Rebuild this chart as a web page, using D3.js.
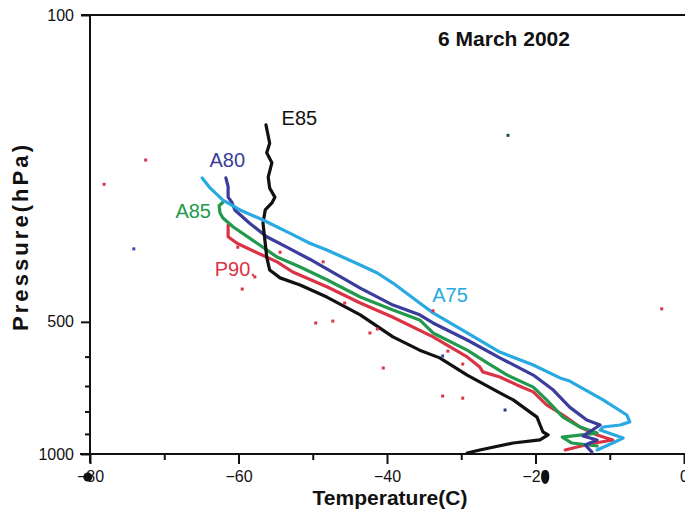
<!DOCTYPE html>
<html>
<head>
<meta charset="utf-8">
<script src="https://cdn.jsdelivr.net/npm/d3@7"></script>
<style>
  html, body { margin: 0; padding: 0; background: #fff; }
  svg { display: block; font-family: "Liberation Sans", Arial, sans-serif; }
</style>
</head>
<body>
<svg id="chart" width="685" height="512"></svg>
<script>
// ---- data: [temperature (C), pressure (hPa)] ----
const E85 = [[-56.3,178],[-55.8,196],[-56.2,206],[-55.5,217],[-56.0,234],[-55.8,248],[-55.1,260],[-55.5,268],[-56.4,278],[-56.7,298],[-56.4,331],[-56.2,356],[-55.8,381],[-54.4,397],[-51.7,412],[-48.1,439],[-43.6,482],[-39.2,541],[-35.6,580],[-32.9,604],[-29.2,661],[-24.8,726],[-23.0,753],[-19.8,824],[-19.0,891],[-18.3,905],[-19.4,929],[-23.0,944],[-27.5,979],[-29.2,995]];
const A80 = [[-61.7,235],[-61.4,246],[-61.4,260],[-60.9,267],[-60.5,278],[-58.5,298],[-56.2,320],[-53.5,338],[-50.4,360],[-43.6,419],[-39.2,458],[-35.6,482],[-33.8,503],[-29.2,550],[-24.8,604],[-20.3,661],[-17.6,715],[-15.4,782],[-13.1,837],[-11.3,859],[-13.6,910],[-11.7,929],[-13.3,954],[-12.4,990]];
const A85 = [[-62.1,267],[-62.6,272],[-62.5,282],[-62.1,290],[-60.7,304],[-57.5,331],[-54.8,356],[-51.7,375],[-48.1,401],[-43.6,439],[-39.2,470],[-35.6,495],[-33.8,530],[-29.2,580],[-26.5,620],[-23.8,661],[-20.3,704],[-18.5,753],[-16.3,824],[-14.0,868],[-11.7,896],[-16.4,915],[-15.1,944],[-11.7,959]];
const P90 = [[-61.4,301],[-61.4,320],[-60.2,331],[-57.5,348],[-54.8,365],[-52.7,385],[-48.1,416],[-43.6,453],[-39.2,488],[-33.8,541],[-29.2,601],[-27.5,634],[-27.1,650],[-24.8,668],[-22.5,696],[-20.3,722],[-18.5,773],[-16.3,815],[-14.0,868],[-11.7,905],[-9.6,929],[-12.7,949],[-14.4,964],[-16.0,979]];
const A75 = [[-64.9,235],[-63.8,248],[-62.1,264],[-59.8,278],[-56.7,293],[-53.1,314],[-50.4,331],[-48.1,343],[-43.6,371],[-41.3,387],[-39.2,408],[-35.6,453],[-33.8,477],[-29.2,530],[-24.8,586],[-20.3,627],[-16.7,671],[-15.4,682],[-10.9,753],[-7.7,815],[-7.3,845],[-8.6,859],[-10.9,868],[-11.3,882],[-8.2,920],[-9.6,944],[-11.7,979]];
const redDots = [[-72.5,214],[-78.1,243],[-60.1,338],[-54.4,347],[-48.6,365],[-57.8,395],[-59.5,421],[-45.7,453],[-49.6,503],[-47.3,498],[-42.3,530],[-41.3,519],[-40.5,637],[-33.8,472],[-31.8,583],[-29.8,624],[-32.5,738],[-29.8,746],[-3.0,467]];
const darkDots = [[-23.7,188,"#1f4f4f"],[-74.1,341,"#3a4aa0"],[-24.1,794,"#2a3a8a"],[-32.5,598,"#3a4aa0"]];
const seriesNames = ["P90","A85","A80","E85","A75"];
const seriesData = {P90, A85, A80, E85, A75};
const seriesColors = {E85:"#111111", A80:"#3b3c9b", A85:"#22994c", P90:"#da3345", A75:"#29a9e1"};
const seriesLabels = [
  {name:"E85", T:-54.2, P:173.5},
  {name:"A80", T:-63.9, P:216},
  {name:"A85", T:-68.5, P:282},
  {name:"P90.", key:"P90", T:-63.2, P:383},
  {name:"A75", T:-33.9, P:439}
];
const xMajor = [-80,-60,-40,-20,0];
const xMinor = [-70,-50,-30,-10];
const yMajor = [100,500,1000];
const yMinor = [600,700,800,900];
const title = "6 March 2002";
const xTitle = "Temperature(C)";
const yTitle = "Pressure(hPa)";

// ---- scales ----
const svg = d3.select("#chart");
const x = d3.scaleLinear().domain([-80,0]).range([90,684]);
const y = d3.scaleLog().domain([100,1000]).range([15,454]);

// ---- axes ----
const axisColor = "#111";
svg.append("line").attr("x1",81).attr("x2",685).attr("y1",y(100)).attr("y2",y(100)).attr("stroke",axisColor).attr("stroke-width",2);
svg.append("line").attr("x1",x(-80)).attr("x2",x(-80)).attr("y1",y(100)).attr("y2",y(1000)+9).attr("stroke",axisColor).attr("stroke-width",2);
svg.append("line").attr("x1",80).attr("x2",685).attr("y1",y(1000)).attr("y2",y(1000)).attr("stroke",axisColor).attr("stroke-width",2);

const yAxis = svg.append("g").attr("transform",`translate(${x(-80)},0)`)
  .call(d3.axisLeft(y).tickValues(yMajor).tickSize(9).tickPadding(7).tickFormat(d3.format("d")));
const yAxisMinor = svg.append("g").attr("transform",`translate(${x(-80)},0)`)
  .call(d3.axisLeft(y).tickValues(yMinor).tickSize(5).tickFormat(""));
const xAxis = svg.append("g").attr("transform",`translate(0,${y(1000)})`)
  .call(d3.axisBottom(x).tickValues(xMajor).tickSize(10).tickPadding(7));
const xAxisMinor = svg.append("g").attr("transform",`translate(0,${y(1000)})`)
  .call(d3.axisBottom(x).tickValues(xMinor).tickSize(6).tickFormat(""));
[yAxis,yAxisMinor,xAxis,xAxisMinor].forEach(g=>{
  g.select(".domain").remove();
  g.selectAll(".tick line").attr("stroke",axisColor).attr("stroke-width",2);
  g.selectAll(".tick text").attr("fill","#111").style("font-size","16px").style("font-family","'Liberation Sans', Arial, sans-serif");
});

// ---- series ----
const line = d3.line().x(d=>x(d[0])).y(d=>y(d[1])).curve(d3.curveLinear);
seriesNames.forEach(n=>{
  svg.append("path").datum(seriesData[n]).attr("d",line)
    .attr("fill","none").attr("stroke",seriesColors[n]).attr("stroke-width",3.2)
    .attr("stroke-linejoin","round").attr("stroke-linecap","round");
});

// dots
svg.selectAll("rect.rd").data(redDots).join("rect").attr("class","rd")
  .attr("x",d=>x(d[0])-1.5).attr("y",d=>y(d[1])-1.5).attr("width",3).attr("height",3)
  .attr("fill","#da3345");
svg.selectAll("rect.dd").data(darkDots).join("rect").attr("class","dd")
  .attr("x",d=>x(d[0])-1.5).attr("y",d=>y(d[1])-1.5).attr("width",3).attr("height",3)
  .attr("fill",d=>d[2]);

// series labels
seriesLabels.forEach(l=>{
  const key = l.key || l.name;
  svg.append("text").attr("x",x(l.T)).attr("y",y(l.P))
    .attr("fill",seriesColors[key]).style("font-size","20px")
    .attr("dominant-baseline","middle").text(l.name);
});

// title
svg.append("text").attr("x",504).attr("y",40).attr("text-anchor","middle")
  .attr("dominant-baseline","middle").style("font-size","21px").style("font-weight","bold")
  .attr("fill","#111").text(title);

// axis titles
svg.append("text").attr("x",390).attr("y",499).attr("text-anchor","middle")
  .attr("dominant-baseline","middle").style("font-size","21px").style("font-weight","bold")
  .attr("fill","#111").text(xTitle);
svg.append("text").attr("transform","translate(22,238) rotate(-90)").attr("text-anchor","middle")
  .attr("dominant-baseline","middle").style("font-size","22px").style("font-weight","bold")
  .attr("textLength",186).attr("lengthAdjust","spacing")
  .attr("fill","#111").text(yTitle);

// scan blobs on tick labels
svg.append("ellipse").attr("cx",x(-80.3)).attr("cy",477).attr("rx",4.5).attr("ry",4.5).attr("fill","#111");
svg.append("ellipse").attr("cx",x(-18.7)).attr("cy",477).attr("rx",4).attr("ry",7).attr("fill","#111");
</script>
</body>
</html>
